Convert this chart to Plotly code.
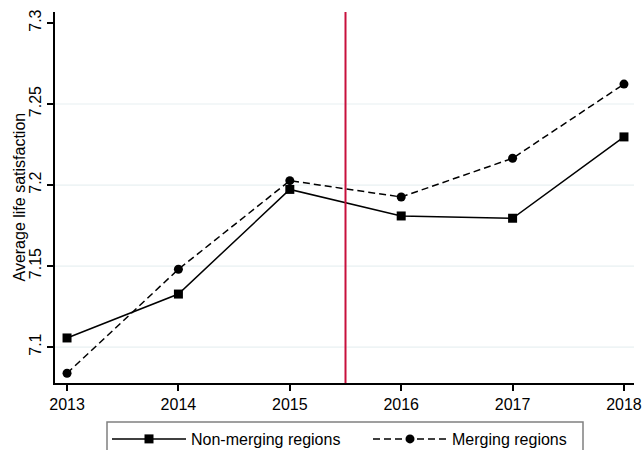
import plotly.graph_objects as go

years = [2013, 2014, 2015, 2016, 2017, 2018]
non_merging = [7.1056, 7.1327, 7.1973, 7.1809, 7.1795, 7.2297]
merging = [7.0838, 7.1480, 7.2027, 7.1926, 7.2165, 7.2623]
ytick_vals = [7.1, 7.15, 7.2, 7.25, 7.3]
ytick_text = ["7.1", "7.15", "7.2", "7.25", "7.3"]
grid_vals = [7.1, 7.15, 7.2, 7.25]
reform_year = 2015.5

W, H = 642, 450
L, R, T, B = 55, 8, 12, 67
PW, PH = W - L - R, H - T - B
FONT = "Liberation Sans, Arial, sans-serif"

fig = go.Figure()
fig.add_trace(go.Scatter(
    x=years, y=non_merging, name="Non-merging regions",
    mode="lines+markers", legend="legend",
    line=dict(color="black", width=1.5),
    marker=dict(symbol="square", size=9, color="black"),
))
fig.add_trace(go.Scatter(
    x=years, y=merging, name="Merging regions",
    mode="lines+markers", legend="legend2",
    line=dict(color="black", width=1.5, dash="7px,4px"),
    marker=dict(symbol="circle", size=9, color="black"),
))

shapes = []
for g in grid_vals:
    shapes.append(dict(type="line", xref="paper", x0=0, x1=1, yref="y", y0=g, y1=g,
                       line=dict(color="#e8f0f2", width=1.2), layer="below"))
shapes.append(dict(type="line", xref="x", x0=reform_year, x1=reform_year,
                   yref="paper", y0=0, y1=1, line=dict(color="#c8103c", width=2)))
# legend frame
shapes.append(dict(type="rect", xref="paper", yref="paper",
                   x0=(107 - L) / PW, x1=(583 - L) / PW,
                   y0=(T + PH - 460) / PH, y1=(T + PH - 422) / PH,
                   line=dict(color="#808080", width=1.5), fillcolor="rgba(0,0,0,0)"))

leg_common = dict(
    orientation="h", xref="container", xanchor="left",
    yref="container", y=(H - 422) / H, yanchor="top",
    borderwidth=0, bgcolor="rgba(0,0,0,0)",
    itemwidth=74, font=dict(size=16, family=FONT),
)

fig.update_layout(
    width=W, height=H,
    margin=dict(l=L, r=R, t=T, b=B, autoexpand=False),
    paper_bgcolor="white", plot_bgcolor="white",
    font=dict(family=FONT, size=16, color="black"),
    showlegend=True,
    legend=dict(x=107 / W, **leg_common),
    legend2=dict(x=368 / W, **leg_common),
    shapes=shapes,
    annotations=[dict(
        text="Average life satisfaction", textangle=-90,
        xref="paper", x=(19 - L) / PW, xanchor="center",
        yref="paper", y=0.5, yanchor="middle",
        showarrow=False, font=dict(size=16, family=FONT),
    )],
)

fig.update_xaxes(
    range=[2012.892, 2018.09], tickvals=years, ticktext=[str(y) for y in years],
    showgrid=False, zeroline=False,
    showline=True, linecolor="black", linewidth=2,
    ticks="outside", ticklen=6, tickwidth=1.5, tickcolor="black",
    tickfont=dict(size=16, family=FONT),
)
fig.update_yaxes(
    range=[7.0778, 7.3068], tickvals=ytick_vals, ticktext=ytick_text,
    showgrid=False, zeroline=False,
    showline=True, linecolor="black", linewidth=2,
    ticks="outside", ticklen=6, tickwidth=1.5, tickcolor="black",
    tickangle=-90, tickfont=dict(size=16, family=FONT),
)

fig.write_html("out.html")
